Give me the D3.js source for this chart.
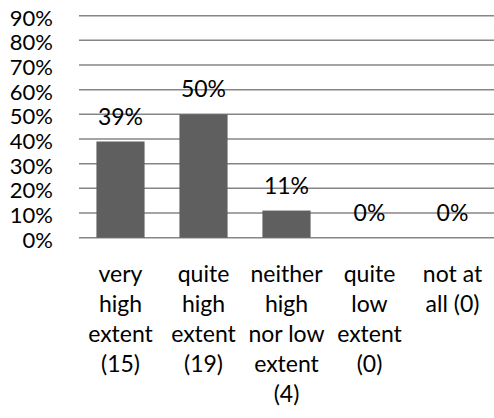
<!DOCTYPE html>
<html>
<head>
<meta charset="utf-8">
<script src="https://cdn.jsdelivr.net/npm/d3@7"></script>
<style>
  html, body { margin: 0; padding: 0; background: #fff; }
  svg { display: block; }
  text { font-family: Lato, "Open Sans", sans-serif; fill: #000; }
</style>
</head>
<body>
<svg id="chart" width="494" height="418"></svg>
<script>
// ---- data ----
const categories = ["very high extent (15)", "quite high extent (19)", "neither high nor low extent (4)", "quite low extent (0)", "not at all (0)"];
const categoryLines = [
  ["very", "high", "extent", "(15)"],
  ["quite", "high", "extent", "(19)"],
  ["neither", "high", "nor low", "extent", "(4)"],
  ["quite", "low", "extent", "(0)"],
  ["not at", "all (0)"]
];
const values = [39, 50, 11, 0, 0];
const yTicks = [0, 10, 20, 30, 40, 50, 60, 70, 80, 90];

// ---- layout ----
const plot = { left: 79, right: 494, top: 15.7, bottom: 237.7 };
const fontSize = 23;

const svg = d3.select("#chart");

const x = d3.scaleBand()
  .domain(categories)
  .range([plot.left, plot.right])
  .paddingInner(0.42)
  .paddingOuter(0.21);

const y = d3.scaleLinear()
  .domain([0, 90])
  .range([plot.bottom, plot.top]);

// gridlines
svg.append("g")
  .selectAll("line")
  .data(yTicks)
  .join("line")
  .attr("x1", plot.left)
  .attr("x2", plot.right)
  .attr("y1", d => y(d))
  .attr("y2", d => y(d))
  .attr("stroke", "#868686")
  .attr("stroke-width", 1.5);

// y axis
const yAxis = d3.axisLeft(y)
  .tickValues(yTicks)
  .tickFormat(d => d + "%")
  .tickSize(0)
  .tickPadding(0);
const gy = svg.append("g")
  .attr("transform", `translate(53,0)`)
  .call(yAxis);
gy.select(".domain").remove();
gy.selectAll("text")
  .attr("font-family", "'Liberation Sans', Arial, sans-serif")
  .attr("font-size", 22)
  .attr("fill", "#000")
  .attr("dy", "0.43em");

// bars
svg.append("g")
  .selectAll("rect")
  .data(values)
  .join("rect")
  .attr("x", (d, i) => x(categories[i]))
  .attr("width", x.bandwidth())
  .attr("y", d => y(d))
  .attr("height", d => y(0) - y(d))
  .attr("fill", "#5f5f5f");

// value labels
svg.append("g")
  .selectAll("text")
  .data(values)
  .join("text")
  .attr("x", (d, i) => x(categories[i]) + x.bandwidth() / 2)
  .attr("y", d => y(d) - 17)
  .attr("text-anchor", "middle")
  .attr("font-size", fontSize)
  .text(d => d + "%");

// category labels
const lineH = 30;
const firstBaseline = 282;
const gx = svg.append("g");
categoryLines.forEach((lines, i) => {
  const cx = x(categories[i]) + x.bandwidth() / 2;
  const t = gx.append("text")
    .attr("x", cx)
    .attr("y", firstBaseline)
    .attr("text-anchor", "middle")
    .attr("font-size", fontSize);
  lines.forEach((ln, j) => {
    t.append("tspan")
      .attr("x", cx)
      .attr("y", firstBaseline + j * lineH)
      .text(ln);
  });
});
</script>
</body>
</html>
